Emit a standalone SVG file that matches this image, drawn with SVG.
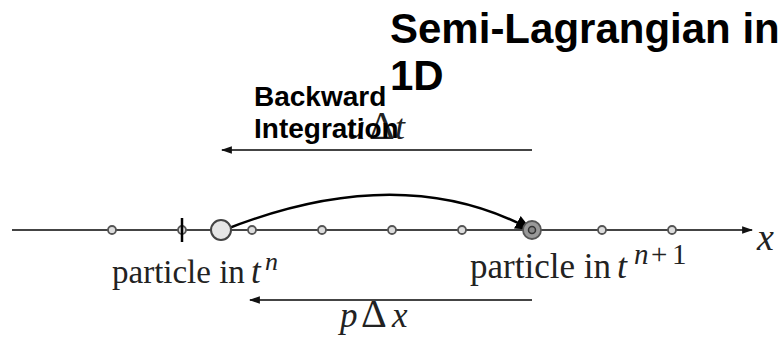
<svg xmlns="http://www.w3.org/2000/svg" width="783" height="337" viewBox="0 0 783 337">
<defs>
<marker id="ah" viewBox="0 0 10 10" refX="9" refY="5" markerWidth="11" markerHeight="11" markerUnits="userSpaceOnUse" orient="auto">
<path d="M0,1.5 L10,5 L0,8.5 Z" fill="#111"/>
</marker>
<marker id="ahc" viewBox="0 0 10 10" refX="9" refY="5" markerWidth="16" markerHeight="16" markerUnits="userSpaceOnUse" orient="auto">
<path d="M0,0.5 L10,5 L0,9.5 Z" fill="#000"/>
</marker>
</defs>
<style>
.ln{stroke:#444;stroke-width:2;fill:none}
.gp{fill:#ddd;stroke:#555;stroke-width:1.8}
.tt{font-family:"Liberation Sans",Arial,sans-serif;font-weight:bold;fill:#000}
.sf{font-family:"Liberation Serif","Times New Roman",serif;fill:#222}
.it{font-style:italic}
</style>
<g id="title">
<text class="tt" x="390" y="43" font-size="42">Semi-Lagrangian in</text>
<text class="tt" x="390" y="90" font-size="42">1D</text>
</g>
<g id="udt-label">
<text class="sf" y="139" font-size="36"><tspan class="it" x="347">u</tspan><tspan x="369" font-size="40">Δ</tspan><tspan class="it" x="395">t</tspan></text>
</g>
<g id="backward-label">
<text class="tt" x="254" y="106" font-size="28">Backward</text>
<text class="tt" x="254" y="138" font-size="28">Integration</text>
</g>
<g id="connectors">
<line class="ln" x1="532" y1="150" x2="222" y2="150" marker-end="url(#ah)"/>
<line class="ln" x1="12" y1="230" x2="752" y2="230" marker-end="url(#ah)"/>
<line class="ln" x1="532" y1="300" x2="250" y2="300" marker-end="url(#ah)"/>
<path d="M224,230 Q400,160 530,229" fill="none" stroke="#000" stroke-width="2.5" marker-end="url(#ahc)"/>
</g>
<g id="grid">
<circle class="gp" cx="112" cy="230" r="4"/>
<circle class="gp" cx="182" cy="230" r="4"/>
<line x1="182" y1="218" x2="182" y2="242" stroke="#000" stroke-width="2.5"/>
<circle class="gp" cx="252" cy="230" r="4"/>
<circle class="gp" cx="322" cy="230" r="4"/>
<circle class="gp" cx="392" cy="230" r="4"/>
<circle class="gp" cx="462" cy="230" r="4"/>
<circle class="gp" cx="602" cy="230" r="4"/>
<circle class="gp" cx="672" cy="230" r="4"/>
</g>
<g id="particle-n">
<circle cx="221" cy="230" r="10" fill="#e6e6e6" stroke="#444" stroke-width="2"/>
</g>
<g id="particle-n1">
<circle cx="532" cy="230" r="9" fill="#999" stroke="#555" stroke-width="1.8"/>
<circle cx="532" cy="230" r="3.5" fill="#888" stroke="#333" stroke-width="1.5"/>
</g>
<g id="labels">
<text class="sf it" x="757" y="250" font-size="38">x</text>
<text class="sf" x="112" y="283" font-size="33">particle in</text>
<text class="sf it" x="251" y="283" font-size="35">t</text>
<text class="sf it" x="265" y="270" font-size="26">n</text>
<text class="sf" x="470" y="278" font-size="35">particle in</text>
<text class="sf it" x="617" y="278" font-size="36">t</text>
<text class="sf" y="264" font-size="29"><tspan class="it" x="634">n</tspan><tspan x="651">+</tspan><tspan x="672">1</tspan></text>
<text class="sf" y="327" font-size="35"><tspan class="it" x="340">p</tspan><tspan x="361" font-size="40">Δ</tspan><tspan class="it" x="392">x</tspan></text>
</g>
</svg>
